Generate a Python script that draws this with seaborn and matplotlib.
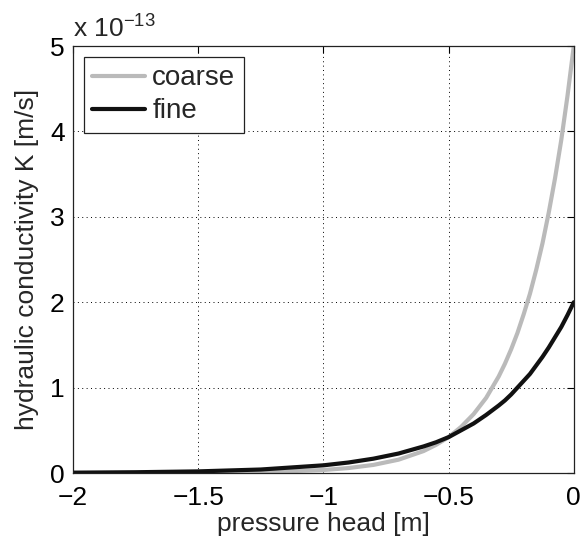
import numpy as np
import pandas as pd
import matplotlib
matplotlib.use("Agg")
import matplotlib.pyplot as plt
import seaborn as sns
from matplotlib.lines import Line2D

# pressure head [m]
head = [-2.0, -1.75, -1.5, -1.25, -1.0, -0.9, -0.8, -0.7, -0.6, -0.55, -0.5, -0.45,
        -0.4, -0.35, -0.3, -0.275, -0.25, -0.225, -0.2, -0.175, -0.15, -0.125,
        -0.1, -0.075, -0.05, -0.025, 0.0]
# hydraulic conductivity K, in units of 1e-13 m/s
coarse = [0.0003, 0.0009, 0.003, 0.010, 0.035, 0.058, 0.095, 0.156, 0.257, 0.33, 0.42, 0.54,
          0.69, 0.88, 1.13, 1.28, 1.45, 1.64, 1.86, 2.10, 2.38, 2.69,
          3.05, 3.45, 3.90, 4.42, 5.0]
fine = [0.004, 0.009, 0.019, 0.041, 0.090, 0.123, 0.168, 0.228, 0.311, 0.36, 0.42, 0.50,
        0.58, 0.68, 0.79, 0.85, 0.92, 1.00, 1.08, 1.16, 1.26, 1.36,
        1.47, 1.59, 1.71, 1.85, 2.0]
series_names = ["coarse", "fine"]
x_ticks = [-2, -1.5, -1, -0.5, 0]
x_tick_labels = ["\u22122", "\u22121.5", "\u22121", "\u22120.5", "0"]
y_ticks = [0, 1, 2, 3, 4, 5]

df = pd.DataFrame({
    "head": head + head,
    "K": coarse + fine,
    "soil": [series_names[0]] * len(head) + [series_names[1]] * len(head),
})

sns.set_style("white")
plt.rcParams["font.family"] = ["Liberation Sans", "DejaVu Sans"]

GREY = "#bababa"
BLACK = "#111111"
FS = 19

fig = plt.figure(figsize=(5.81, 5.44), dpi=100)
ax = fig.add_axes([0.1256, 0.1305, 0.862, 0.7849])

sns.lineplot(data=df, x="head", y="K", hue="soil",
             palette={"coarse": GREY, "fine": BLACK},
             linewidth=3.0, ax=ax, legend=False, sort=True)

ax.set_xlim(-2, 0)
ax.set_ylim(0, 5)
ax.set_xticks(x_ticks)
ax.set_xticklabels(x_tick_labels)
ax.set_yticks(y_ticks)
ax.tick_params(direction="in", length=5, width=0.8, top=True, right=True,
               labelsize=FS, colors="black")
ax.tick_params(axis="x", pad=9)
ax.tick_params(axis="y", pad=6)
ax.grid(True, color="black", linestyle=(0, (1, 3.5)), linewidth=0.7)
for s in ax.spines.values():
    s.set_color("#222222")
    s.set_linewidth(0.9)
    s.set_visible(True)

ax.set_xlabel("pressure head [m]", fontsize=FS, labelpad=2)
ax.set_ylabel("hydraulic conductivity K [m/s]", fontsize=FS, labelpad=8)
ax.text(0.0, 1.01, r"x 10$^{\mathregular{-13}}$", transform=ax.transAxes,
        fontsize=FS, ha="left", va="bottom")

handles = [Line2D([], [], color=GREY, lw=3.0),
           Line2D([], [], color=BLACK, lw=3.0)]
leg = ax.legend(handles, series_names, loc="upper left", fontsize=FS + 1,
                frameon=True, fancybox=False, framealpha=1, edgecolor="#222222",
                borderaxespad=0.4, handlelength=1.9, handletextpad=0.25,
                labelspacing=0.25, borderpad=0.3)
leg.get_frame().set_linewidth(0.9)

fig.savefig("out.png", dpi=100)
